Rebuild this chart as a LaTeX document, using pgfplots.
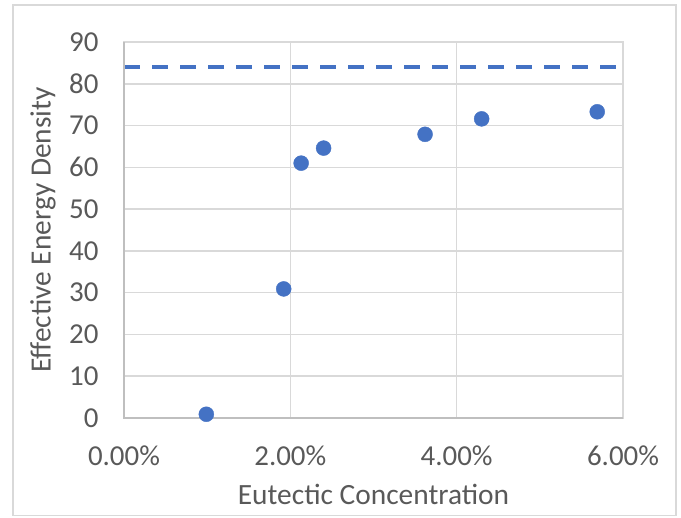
\documentclass[border=0pt]{standalone}
\usepackage{pgfplots}
\pgfplotsset{compat=1.18}
\usepackage{fontspec}
\setmainfont{Carlito}
\definecolor{txt}{HTML}{595959}
\definecolor{grd}{HTML}{D9D9D9}
\definecolor{axl}{HTML}{BFBFBF}
\definecolor{blu}{HTML}{4472C4}
\begin{document}
\begin{tikzpicture}
\begin{axis}[
  width=499bp, height=376bp, scale only axis,
  xmin=0, xmax=6, ymin=0, ymax=90,
  xtick={0,2,4,6}, xticklabels={0.00\%,2.00\%,4.00\%,6.00\%},
  ytick={0,10,...,90},
  grid=major,
  major grid style={draw=grd, line width=1.5bp},
  axis line style={draw=grd, line width=1.5bp},
  tick style={draw=none},
  /pgf/number format/assume math mode=true,
  ticklabel style={font=\fontsize{29}{34}\selectfont, text=txt},
  xticklabel style={yshift=-24bp},
  yticklabel style={xshift=-22bp},
  xlabel={Eutectic Concentration},
  ylabel={Effective Energy Density},
  label style={font=\fontsize{29.5}{34}\selectfont, text=txt},
  xlabel style={at={(rel axis cs:0.5,-0.2021)}, anchor=center},
  ylabel style={at={(rel axis cs:-0.1623,0.5)}, anchor=center},
  clip=false,
]
\addplot[draw=blu, line width=4bp, dash pattern=on 16bp off 12bp, forget plot] coordinates {(0,83.9) (6,83.9)};
\addplot[only marks, mark=*, mark size=7.5bp, mark options={fill=blu, draw=blu}] coordinates {
(0.99,0.9) (1.92,30.9) (2.13,61.0) (2.40,64.6) (3.62,67.9) (4.30,71.6) (5.69,73.3)};
\draw[axl, line width=1.5bp] (rel axis cs:0,1) -- (rel axis cs:0,0) -- (rel axis cs:1,0);
\draw[grd, line width=1.5bp] (rel axis cs:-0.2224,-0.2593) rectangle (rel axis cs:1.1062,1.0984);
\useasboundingbox (rel axis cs:-0.2485,-0.2633) rectangle (rel axis cs:1.1162,1.1117);
\end{axis}
\end{tikzpicture}
\end{document}
